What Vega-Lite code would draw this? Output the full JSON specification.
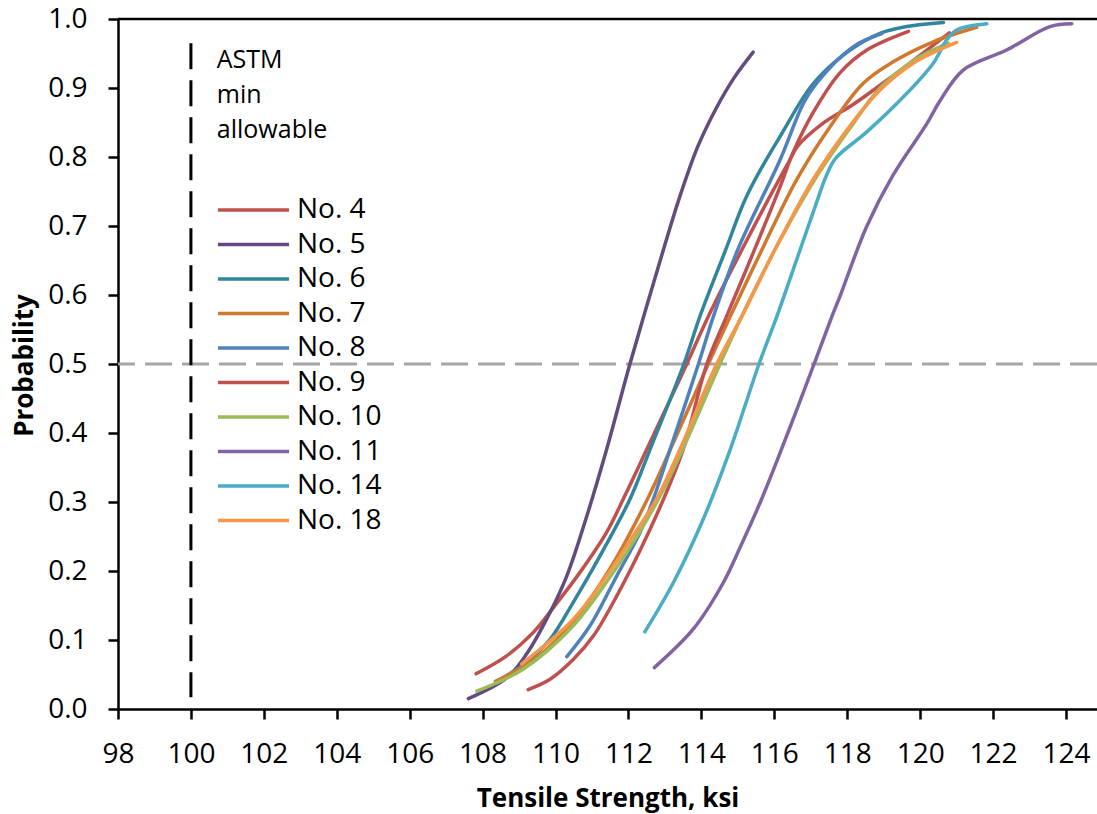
{
  "$schema": "https://vega.github.io/schema/vega-lite/v6.json",
  "width": 979,
  "height": 690,
  "autosize": {"type": "none"},
  "padding": {"left": 118, "top": 19, "right": 0, "bottom": 105},
  "background": "white",
  "config": {
    "font": "Open Sans",
    "view": {"stroke": null},
    "axis": {
      "domainColor": "black", "domainWidth": 2.5,
      "tickColor": "black", "tickWidth": 2.5, "tickSize": 10,
      "labelFont": "Open Sans", "labelFontSize": 28, "labelColor": "black", "labelPadding": 21,
      "labelFlush": false, "labelOverlap": false,
      "titleFont": "Open Sans", "titleFontSize": 26, "titleFontWeight": "bold", "titleColor": "black",
      "grid": false
    },
    "axisX": {"titleY": 97, "titleBaseline": "alphabetic"},
    "axisY": {"titleX": -86, "titleY": 346, "titleBaseline": "alphabetic", "titleAngle": -90, "titleAlign": "center"}
  },
  "datasets": {
    "curves": [
      {"s": "No. 4", "x": 107.82, "p": 0.051}, {"s": "No. 4", "x": 108.66, "p": 0.077}, {"s": "No. 4", "x": 109.39, "p": 0.111},
      {"s": "No. 4", "x": 109.94, "p": 0.147}, {"s": "No. 4", "x": 110.67, "p": 0.198}, {"s": "No. 4", "x": 111.40, "p": 0.256},
      {"s": "No. 4", "x": 111.90, "p": 0.309}, {"s": "No. 4", "x": 112.50, "p": 0.376}, {"s": "No. 4", "x": 113.60, "p": 0.500},
      {"s": "No. 4", "x": 114.19, "p": 0.569}, {"s": "No. 4", "x": 115.69, "p": 0.724}, {"s": "No. 4", "x": 116.43, "p": 0.796},
      {"s": "No. 4", "x": 116.63, "p": 0.815}, {"s": "No. 4", "x": 117.34, "p": 0.849}, {"s": "No. 4", "x": 118.16, "p": 0.876},
      {"s": "No. 4", "x": 119.26, "p": 0.918}, {"s": "No. 4", "x": 120.80, "p": 0.980},

      {"s": "No. 5", "x": 107.61, "p": 0.015}, {"s": "No. 5", "x": 108.66, "p": 0.045}, {"s": "No. 5", "x": 109.21, "p": 0.080},
      {"s": "No. 5", "x": 109.85, "p": 0.140}, {"s": "No. 5", "x": 110.31, "p": 0.193}, {"s": "No. 5", "x": 110.86, "p": 0.280},
      {"s": "No. 5", "x": 111.40, "p": 0.376}, {"s": "No. 5", "x": 112.04, "p": 0.500}, {"s": "No. 5", "x": 112.96, "p": 0.666},
      {"s": "No. 5", "x": 113.41, "p": 0.743}, {"s": "No. 5", "x": 113.90, "p": 0.815}, {"s": "No. 5", "x": 114.40, "p": 0.870},
      {"s": "No. 5", "x": 114.90, "p": 0.915}, {"s": "No. 5", "x": 115.42, "p": 0.952},

      {"s": "No. 6", "x": 108.40, "p": 0.040}, {"s": "No. 6", "x": 109.20, "p": 0.068}, {"s": "No. 6", "x": 109.85, "p": 0.101},
      {"s": "No. 6", "x": 110.49, "p": 0.155}, {"s": "No. 6", "x": 111.22, "p": 0.222}, {"s": "No. 6", "x": 112.04, "p": 0.304},
      {"s": "No. 6", "x": 112.59, "p": 0.376}, {"s": "No. 6", "x": 113.52, "p": 0.500}, {"s": "No. 6", "x": 113.96, "p": 0.569},
      {"s": "No. 6", "x": 114.67, "p": 0.666}, {"s": "No. 6", "x": 115.24, "p": 0.743}, {"s": "No. 6", "x": 116.16, "p": 0.830},
      {"s": "No. 6", "x": 117.25, "p": 0.917}, {"s": "No. 6", "x": 118.90, "p": 0.979}, {"s": "No. 6", "x": 120.64, "p": 0.995},

      {"s": "No. 7", "x": 108.35, "p": 0.040}, {"s": "No. 7", "x": 109.50, "p": 0.075}, {"s": "No. 7", "x": 110.50, "p": 0.128},
      {"s": "No. 7", "x": 111.50, "p": 0.204}, {"s": "No. 7", "x": 112.52, "p": 0.304}, {"s": "No. 7", "x": 113.35, "p": 0.400},
      {"s": "No. 7", "x": 114.19, "p": 0.500}, {"s": "No. 7", "x": 114.79, "p": 0.569}, {"s": "No. 7", "x": 115.70, "p": 0.670},
      {"s": "No. 7", "x": 116.61, "p": 0.767}, {"s": "No. 7", "x": 117.53, "p": 0.844}, {"s": "No. 7", "x": 118.44, "p": 0.907},
      {"s": "No. 7", "x": 119.26, "p": 0.938}, {"s": "No. 7", "x": 120.36, "p": 0.967}, {"s": "No. 7", "x": 121.55, "p": 0.988},

      {"s": "No. 8", "x": 110.31, "p": 0.076}, {"s": "No. 8", "x": 110.95, "p": 0.121}, {"s": "No. 8", "x": 111.68, "p": 0.193},
      {"s": "No. 8", "x": 112.32, "p": 0.256}, {"s": "No. 8", "x": 112.68, "p": 0.304}, {"s": "No. 8", "x": 113.14, "p": 0.376},
      {"s": "No. 8", "x": 113.92, "p": 0.500}, {"s": "No. 8", "x": 114.33, "p": 0.569}, {"s": "No. 8", "x": 115.00, "p": 0.666},
      {"s": "No. 8", "x": 116.16, "p": 0.796}, {"s": "No. 8", "x": 116.80, "p": 0.878}, {"s": "No. 8", "x": 117.16, "p": 0.907},
      {"s": "No. 8", "x": 118.17, "p": 0.960}, {"s": "No. 8", "x": 118.95, "p": 0.979},

      {"s": "No. 9", "x": 109.25, "p": 0.028}, {"s": "No. 9", "x": 109.85, "p": 0.043}, {"s": "No. 9", "x": 110.49, "p": 0.072},
      {"s": "No. 9", "x": 111.04, "p": 0.106}, {"s": "No. 9", "x": 111.68, "p": 0.164}, {"s": "No. 9", "x": 112.32, "p": 0.230},
      {"s": "No. 9", "x": 112.96, "p": 0.304}, {"s": "No. 9", "x": 113.50, "p": 0.376}, {"s": "No. 9", "x": 114.15, "p": 0.500},
      {"s": "No. 9", "x": 114.69, "p": 0.569}, {"s": "No. 9", "x": 115.42, "p": 0.661}, {"s": "No. 9", "x": 116.16, "p": 0.757},
      {"s": "No. 9", "x": 116.51, "p": 0.806}, {"s": "No. 9", "x": 117.06, "p": 0.864}, {"s": "No. 9", "x": 117.80, "p": 0.922},
      {"s": "No. 9", "x": 118.54, "p": 0.955}, {"s": "No. 9", "x": 119.68, "p": 0.982},

      {"s": "No. 10", "x": 107.84, "p": 0.026}, {"s": "No. 10", "x": 109.12, "p": 0.058}, {"s": "No. 10", "x": 110.49, "p": 0.121},
      {"s": "No. 10", "x": 111.58, "p": 0.198}, {"s": "No. 10", "x": 112.32, "p": 0.258}, {"s": "No. 10", "x": 112.87, "p": 0.309},
      {"s": "No. 10", "x": 113.50, "p": 0.378}, {"s": "No. 10", "x": 114.51, "p": 0.500}, {"s": "No. 10", "x": 115.15, "p": 0.574},
      {"s": "No. 10", "x": 116.10, "p": 0.674}, {"s": "No. 10", "x": 117.14, "p": 0.770}, {"s": "No. 10", "x": 118.08, "p": 0.842},
      {"s": "No. 10", "x": 118.90, "p": 0.900}, {"s": "No. 10", "x": 119.86, "p": 0.941}, {"s": "No. 10", "x": 120.77, "p": 0.965},

      {"s": "No. 11", "x": 112.71, "p": 0.060}, {"s": "No. 11", "x": 113.78, "p": 0.116}, {"s": "No. 11", "x": 114.60, "p": 0.183},
      {"s": "No. 11", "x": 115.06, "p": 0.234}, {"s": "No. 11", "x": 115.65, "p": 0.304}, {"s": "No. 11", "x": 116.37, "p": 0.400},
      {"s": "No. 11", "x": 117.09, "p": 0.500}, {"s": "No. 11", "x": 117.58, "p": 0.569}, {"s": "No. 11", "x": 117.80, "p": 0.598},
      {"s": "No. 11", "x": 118.53, "p": 0.699}, {"s": "No. 11", "x": 119.26, "p": 0.774}, {"s": "No. 11", "x": 120.18, "p": 0.848},
      {"s": "No. 11", "x": 120.55, "p": 0.882}, {"s": "No. 11", "x": 121.18, "p": 0.926}, {"s": "No. 11", "x": 122.37, "p": 0.955},
      {"s": "No. 11", "x": 123.56, "p": 0.989}, {"s": "No. 11", "x": 124.16, "p": 0.993},

      {"s": "No. 14", "x": 112.45, "p": 0.112}, {"s": "No. 14", "x": 113.23, "p": 0.183}, {"s": "No. 14", "x": 114.05, "p": 0.275},
      {"s": "No. 14", "x": 114.79, "p": 0.376}, {"s": "No. 14", "x": 115.58, "p": 0.500},
      {"s": "No. 14", "x": 116.07, "p": 0.569}, {"s": "No. 14", "x": 116.71, "p": 0.666}, {"s": "No. 14", "x": 117.10, "p": 0.725},
      {"s": "No. 14", "x": 117.42, "p": 0.772}, {"s": "No. 14", "x": 117.68, "p": 0.798}, {"s": "No. 14", "x": 118.53, "p": 0.836},
      {"s": "No. 14", "x": 119.63, "p": 0.892}, {"s": "No. 14", "x": 120.36, "p": 0.936}, {"s": "No. 14", "x": 120.73, "p": 0.970},
      {"s": "No. 14", "x": 121.00, "p": 0.984}, {"s": "No. 14", "x": 121.83, "p": 0.993},

      {"s": "No. 18", "x": 109.07, "p": 0.065}, {"s": "No. 18", "x": 110.49, "p": 0.130}, {"s": "No. 18", "x": 111.40, "p": 0.193},
      {"s": "No. 18", "x": 112.13, "p": 0.251}, {"s": "No. 18", "x": 112.77, "p": 0.304}, {"s": "No. 18", "x": 113.41, "p": 0.376},
      {"s": "No. 18", "x": 114.42, "p": 0.500}, {"s": "No. 18", "x": 115.11, "p": 0.569}, {"s": "No. 18", "x": 116.02, "p": 0.666},
      {"s": "No. 18", "x": 117.06, "p": 0.767}, {"s": "No. 18", "x": 117.99, "p": 0.839}, {"s": "No. 18", "x": 118.90, "p": 0.897},
      {"s": "No. 18", "x": 119.81, "p": 0.936}, {"s": "No. 18", "x": 121.00, "p": 0.966}
    ],
    "notes": [
      {"t": "ASTM", "x": 100.71, "p": 0.929},
      {"t": "min", "x": 100.71, "p": 0.878},
      {"t": "allowable", "x": 100.71, "p": 0.827}
    ],
    "astm": [{"x": 100, "top": 0.965, "bottom": 0.017}]
  },
  "layer": [
    {
      "data": {"values": [{}]},
      "mark": {"type": "rule", "color": "#A6A6A6", "strokeWidth": 3, "strokeDash": [27, 10]},
      "encoding": {"y": {"datum": 0.5, "type": "quantitative"}}
    },
    {
      "data": {"values": [{}]},
      "mark": {"type": "rule", "color": "black", "strokeWidth": 2.5},
      "encoding": {"y": {"datum": 1, "type": "quantitative"}}
    },
    {
      "data": {"name": "astm"},
      "mark": {"type": "rule", "color": "black", "strokeWidth": 3, "strokeDash": [26, 11]},
      "encoding": {
        "x": {"field": "x", "type": "quantitative", "title": "Tensile Strength, ksi"},
        "y": {"field": "top", "type": "quantitative", "title": "Probability"},
        "y2": {"field": "bottom"}
      }
    },
    {
      "data": {"name": "notes"},
      "mark": {"type": "text", "align": "left", "baseline": "alphabetic", "fontSize": 25, "font": "Open Sans", "color": "black"},
      "encoding": {
        "x": {"field": "x", "type": "quantitative", "title": "Tensile Strength, ksi"},
        "y": {"field": "p", "type": "quantitative", "title": "Probability"},
        "text": {"field": "t"}
      }
    },
    {
      "data": {"name": "curves"},
      "mark": {"type": "line", "interpolate": "catmull-rom", "strokeWidth": 3.5, "strokeCap": "round"},
      "encoding": {
        "x": {
          "field": "x", "type": "quantitative", "title": "Tensile Strength, ksi",
          "scale": {"domain": [98, 124.85], "nice": false, "zero": false},
          "axis": {"values": [98, 100, 102, 104, 106, 108, 110, 112, 114, 116, 118, 120, 122, 124]}
        },
        "y": {
          "field": "p", "type": "quantitative", "title": "Probability",
          "scale": {"domain": [0, 1], "nice": false},
          "axis": {"values": [0, 0.1, 0.2, 0.3, 0.4, 0.5, 0.6, 0.7, 0.8, 0.9, 1.0], "format": ".1f"}
        },
        "color": {
          "field": "s", "type": "nominal",
          "scale": {
            "domain": ["No. 4", "No. 5", "No. 6", "No. 7", "No. 8", "No. 9", "No. 10", "No. 11", "No. 14", "No. 18"],
            "range": ["#C0504D", "#634B7F", "#31859C", "#D0782E", "#4F81BD", "#C0504D", "#9BBB59", "#8064A2", "#4BACC6", "#F79646"]
          },
          "legend": {
            "orient": "none", "legendX": 118.5, "legendY": 174, "title": null,
            "symbolType": "M-2.37,0H2.37", "symbolSize": 900, "symbolStrokeWidth": 3.5,
            "labelFont": "Open Sans", "labelFontSize": 28, "labelColor": "black",
            "labelOffset": 26.5, "rowPadding": 3.5, "padding": 0, "labelLimit": 300
          }
        }
      }
    }
  ]
}
